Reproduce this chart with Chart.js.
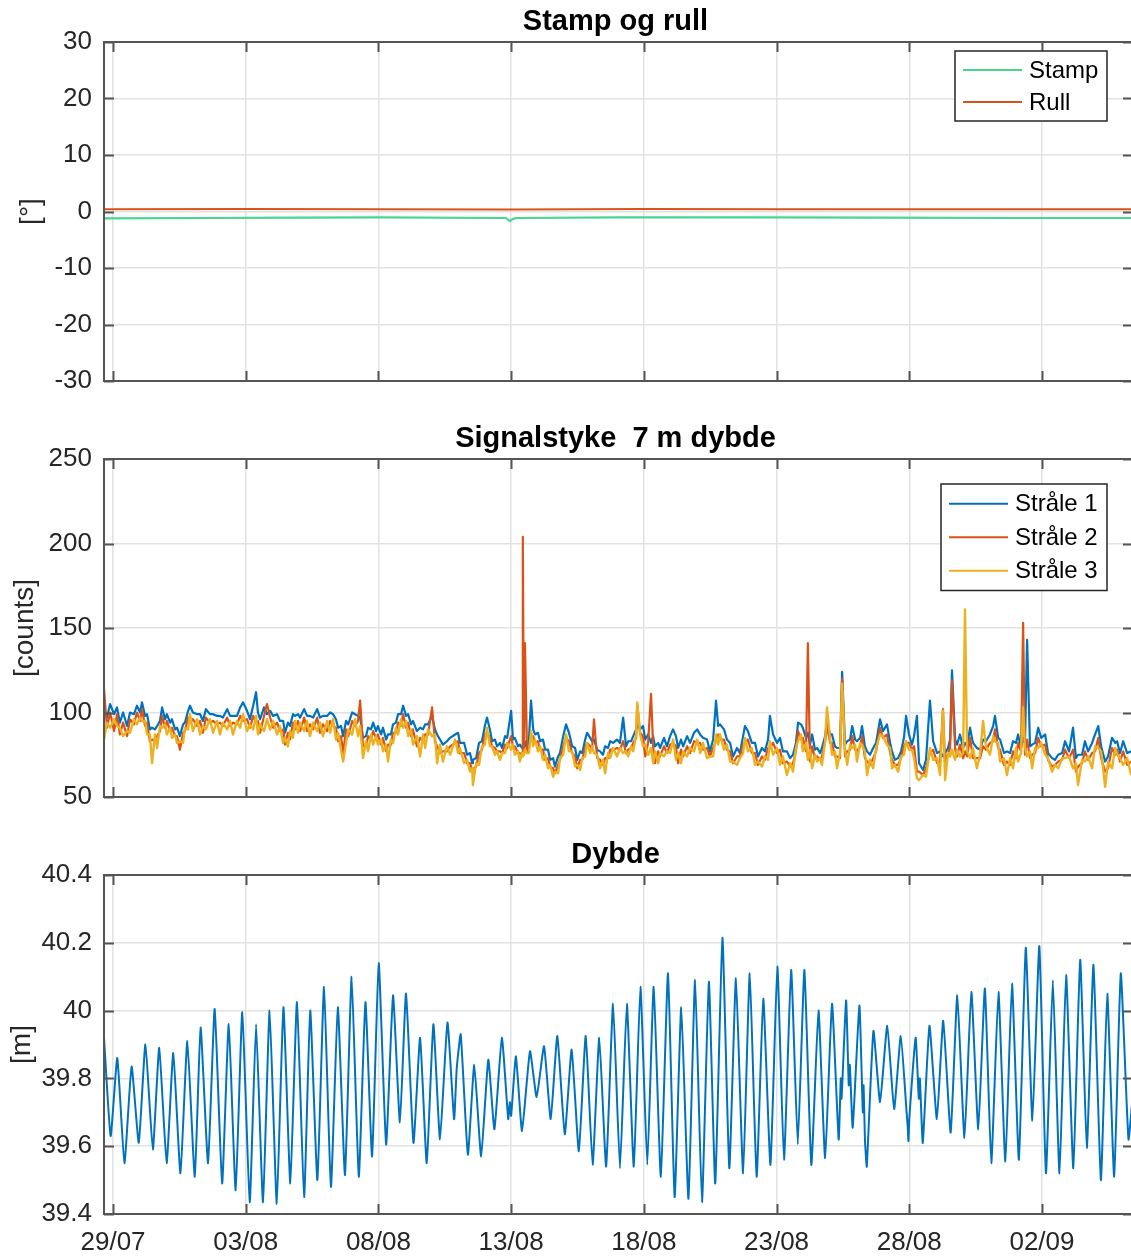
<!DOCTYPE html>
<html>
<head>
<meta charset="utf-8">
<title>Stamp og rull / Signalstyke / Dybde</title>
<script src="https://cdn.jsdelivr.net/npm/chart.js@4.4.1/dist/chart.umd.min.js"></script>
<style>
  html, body { margin: 0; padding: 0; background: #fff; overflow: hidden; }
  #wrap { position: relative; width: 1131px; height: 1256px; overflow: hidden; }
  canvas { position: absolute; left: 0; }
</style>
</head>
<body>
<div id="wrap">
  <canvas id="stampRull" width="1140" height="417" style="top:0px"></canvas>
  <canvas id="signal" width="1140" height="417" style="top:417px"></canvas>
  <canvas id="dybde" width="1140" height="423" style="top:833px"></canvas>
</div>
<script>
// tid i døgn etter 29/07 00:00
const xMin = -0.34;
const xMax = 38.43;
const tickDays = [0, 5, 10, 15, 20, 25, 30, 35];
const tickLabels = ['29/07', '03/08', '08/08', '13/08', '18/08', '23/08', '28/08', '02/09'];

// stamp og rull [grader]
const angleTicks = [-30, -20, -10, 0, 10, 20, 30];
const stampDays = [-0.34, 3, 7, 10, 14.8, 14.95, 15.05, 15.2, 19, 24, 29, 34, 38.43];
const stampVals = [-1.2, -1.15, -1.1, -1.05, -1.15, -1.7, -1.35, -1.15, -1.05, -1.05, -1.1, -1.15, -1.15];
const rullDays = [-0.34, 5, 10, 15, 20, 25, 30, 38.43];
const rullVals = [0.4, 0.45, 0.4, 0.35, 0.45, 0.4, 0.4, 0.4];

// signalstyrke [counts], tre stråler
const countTicks = [50, 100, 150, 200, 250];
const sigDays = [
  -0.34, -0.23, -0.11, 0.04, 0.15, 0.26, 0.38, 0.53, 0.64, 0.79,
  0.90, 1.02, 1.09, 1.21, 1.28, 1.39, 1.47, 1.58, 1.66, 1.77,
  1.85, 1.96, 2.03, 2.15, 2.22, 2.34, 2.41, 2.52, 2.64, 2.71,
  2.83, 2.90, 3.01, 3.17, 3.28, 3.39, 3.50, 3.65, 3.77, 3.92,
  4.03, 4.14, 4.30, 4.41, 4.52, 4.67, 4.79, 4.90, 5.05, 5.16,
  5.28, 5.39, 5.46, 5.54, 5.69, 5.80, 5.92, 6.03, 6.18, 6.29,
  6.41, 6.48, 6.59, 6.67, 6.78, 6.86, 6.97, 7.05, 7.20, 7.31,
  7.42, 7.54, 7.69, 7.80, 7.91, 8.07, 8.18, 8.29, 8.40, 8.48,
  8.59, 8.67, 8.78, 8.86, 9.01, 9.12, 9.23, 9.31, 9.42, 9.53,
  9.61, 9.72, 9.80, 9.91, 9.98, 10.10, 10.17, 10.29, 10.36, 10.47,
  10.55, 10.66, 10.74, 10.85, 10.93, 11.04, 11.12, 11.23, 11.30, 11.45,
  11.57, 11.68, 11.76, 11.87, 12.02, 12.13, 12.21, 12.32, 12.43, 12.58,
  12.70, 12.89, 13.00, 13.07, 13.23, 13.34, 13.45, 13.53, 13.56, 13.68,
  13.79, 13.90, 14.01, 14.09, 14.20, 14.28, 14.39, 14.47, 14.58, 14.66,
  14.77, 14.85, 15.00, 15.07, 15.14, 15.26, 15.33, 15.41, 15.44, 15.48,
  15.52, 15.60, 15.67, 15.75, 15.83, 15.90, 16.01, 16.09, 16.20, 16.28,
  16.39, 16.47, 16.58, 16.65, 16.77, 16.84, 16.96, 17.07, 17.18, 17.30,
  17.41, 17.49, 17.60, 17.68, 17.79, 17.86, 17.98, 18.05, 18.12, 18.24,
  18.35, 18.46, 18.54, 18.65, 18.73, 18.84, 18.99, 19.10, 19.22, 19.33,
  19.41, 19.52, 19.60, 19.71, 19.75, 19.86, 19.97, 20.05, 20.16, 20.27,
  20.35, 20.42, 20.54, 20.61, 20.76, 20.87, 20.99, 21.10, 21.21, 21.29,
  21.40, 21.48, 21.63, 21.74, 21.89, 22.01, 22.12, 22.23, 22.38, 22.49,
  22.61, 22.72, 22.80, 22.87, 23.02, 23.13, 23.25, 23.36, 23.51, 23.62,
  23.74, 23.81, 23.92, 24.07, 24.19, 24.30, 24.45, 24.56, 24.68, 24.75,
  24.87, 25.02, 25.13, 25.24, 25.39, 25.51, 25.62, 25.73, 25.81, 25.92,
  25.99, 26.11, 26.18, 26.26, 26.34, 26.45, 26.53, 26.64, 26.71, 26.83,
  26.90, 27.02, 27.09, 27.20, 27.28, 27.39, 27.47, 27.58, 27.66, 27.77,
  27.85, 27.96, 28.03, 28.15, 28.22, 28.33, 28.41, 28.52, 28.64, 28.75,
  28.90, 29.01, 29.16, 29.28, 29.35, 29.46, 29.58, 29.69, 29.80, 29.88,
  29.99, 30.10, 30.18, 30.29, 30.37, 30.52, 30.63, 30.78, 30.90, 31.05,
  31.16, 31.27, 31.35, 31.46, 31.54, 31.61, 31.73, 31.80, 31.91, 32.03,
  32.10, 32.18, 32.29, 32.40, 32.55, 32.67, 32.78, 32.89, 33.04, 33.16,
  33.23, 33.35, 33.42, 33.57, 33.68, 33.80, 33.91, 34.02, 34.10, 34.21,
  34.29, 34.36, 34.44, 34.55, 34.63, 34.74, 34.86, 34.97, 35.12, 35.23,
  35.38, 35.49, 35.61, 35.76, 35.87, 36.02, 36.17, 36.28, 36.36, 36.51,
  36.62, 36.74, 36.89, 37.00, 37.12, 37.23, 37.38, 37.49, 37.64, 37.76,
  37.83, 37.94, 38.06, 38.21, 38.36
];
const straale1 = [
  102, 97, 105, 99, 103, 94, 100, 92, 100, 99,
  104, 100, 106, 98, 99, 90, 91, 90, 92, 95,
  103, 96, 99, 94, 96, 90, 91, 86, 93, 94,
  101, 104, 100, 99, 99, 95, 102, 99, 99, 98,
  98, 97, 102, 98, 98, 98, 103, 106, 101, 96,
  104, 112, 100, 96, 103, 99, 101, 98, 99, 95,
  95, 88, 94, 92, 99, 98, 99, 97, 102, 98,
  98, 97, 102, 97, 98, 98, 100, 99, 96, 91,
  92, 86, 95, 93, 100, 99, 98, 97, 85, 86,
  91, 90, 94, 89, 92, 87, 91, 84, 87, 87,
  93, 94, 99, 99, 104, 98, 99, 93, 95, 89,
  91, 90, 93, 93, 98, 90, 87, 84, 81, 83,
  85, 87, 88, 82, 82, 75, 76, 70, 72, 73,
  82, 83, 92, 97, 90, 83, 84, 80, 82, 79,
  86, 85, 101, 84, 85, 80, 81, 79, 80, 78,
  83, 79, 84, 107, 90, 87, 88, 83, 84, 78,
  78, 72, 73, 68, 74, 76, 86, 93, 88, 80,
  79, 72, 77, 76, 84, 88, 85, 83, 84, 78,
  77, 75, 80, 79, 83, 82, 84, 82, 97, 80,
  83, 83, 86, 90, 93, 90, 92, 84, 87, 82,
  86, 80, 82, 79, 85, 80, 86, 90, 86, 79,
  84, 80, 86, 82, 88, 90, 87, 85, 84, 77,
  84, 107, 92, 93, 90, 84, 82, 74, 79, 76,
  86, 92, 89, 82, 82, 74, 79, 77, 84, 98,
  87, 82, 85, 77, 77, 73, 75, 82, 94, 93,
  91, 85, 88, 81, 87, 78, 79, 76, 79, 86,
  95, 87, 87, 80, 79, 79, 124, 81, 83, 84,
  92, 84, 83, 85, 92, 80, 77, 75, 79, 82,
  96, 89, 93, 82, 77, 72, 73, 77, 85, 98,
  87, 81, 86, 98, 70, 66, 72, 107, 83, 76,
  77, 74, 76, 79, 84, 125, 84, 81, 87, 79,
  82, 80, 91, 82, 79, 78, 84, 83, 87, 92,
  98, 85, 84, 76, 77, 76, 83, 82, 87, 79,
  85, 82, 143, 80, 81, 82, 91, 85, 87, 76,
  73, 72, 75, 76, 83, 77, 91, 73, 75, 75,
  83, 77, 82, 87, 92, 80, 71, 74, 85, 82,
  83, 76, 83, 76, 77
];
const straale2 = [
  114, 91, 100, 89, 99, 87, 94, 86, 96, 93,
  100, 95, 102, 92, 94, 83, 84, 83, 86, 89,
  98, 91, 95, 89, 91, 86, 86, 78, 88, 89,
  97, 94, 96, 92, 95, 88, 97, 94, 95, 93,
  94, 92, 97, 92, 94, 93, 98, 95, 96, 91,
  98, 94, 95, 88, 98, 105, 97, 91, 94, 89,
  90, 81, 88, 84, 94, 90, 95, 89, 97, 89,
  93, 90, 97, 88, 93, 89, 95, 92, 91, 83,
  86, 76, 90, 86, 95, 92, 95, 107, 80, 80,
  86, 84, 89, 85, 87, 81, 85, 77, 81, 81,
  88, 88, 94, 92, 99, 91, 94, 86, 90, 80,
  85, 83, 87, 87, 103, 83, 80, 76, 77, 77,
  80, 82, 83, 76, 76, 70, 70, 66, 66, 68,
  76, 78, 87, 88, 85, 80, 79, 77, 77, 76,
  81, 79, 86, 80, 80, 76, 76, 75, 204, 75,
  141, 76, 79, 85, 86, 82, 83, 78, 78, 72,
  73, 68, 67, 64, 69, 72, 80, 85, 83, 76,
  74, 67, 72, 72, 79, 82, 80, 78, 96, 73,
  72, 69, 73, 73, 78, 78, 79, 78, 83, 76,
  78, 79, 82, 85, 105, 88, 86, 74, 82, 111,
  80, 70, 77, 74, 80, 76, 81, 82, 80, 70,
  78, 74, 80, 76, 83, 82, 82, 78, 79, 74,
  79, 83, 87, 84, 84, 78, 77, 70, 74, 74,
  81, 82, 84, 76, 76, 69, 74, 72, 79, 79,
  82, 76, 78, 70, 71, 68, 70, 77, 89, 84,
  85, 77, 141, 71, 80, 73, 74, 72, 74, 83,
  92, 82, 82, 74, 74, 73, 120, 74, 77, 78,
  86, 78, 77, 80, 86, 73, 71, 69, 73, 77,
  91, 85, 87, 76, 72, 69, 69, 73, 80, 82,
  82, 78, 80, 65, 65, 63, 67, 76, 78, 70,
  71, 102, 70, 76, 79, 119, 78, 74, 81, 73,
  77, 74, 85, 73, 73, 73, 80, 78, 82, 83,
  90, 79, 78, 69, 71, 69, 77, 73, 82, 77,
  153, 75, 84, 73, 75, 76, 85, 80, 81, 72,
  68, 69, 71, 72, 78, 73, 78, 65, 68, 70,
  77, 72, 76, 77, 85, 73, 65, 67, 79, 75,
  78, 71, 77, 69, 71
];
const straale3 = [
  84, 94, 91, 96, 92, 91, 86, 89, 88, 96,
  93, 97, 95, 95, 87, 87, 70, 87, 79, 92,
  91, 93, 87, 91, 85, 87, 82, 83, 82, 91,
  90, 99, 89, 96, 87, 92, 90, 96, 88, 95,
  87, 94, 90, 95, 87, 95, 91, 99, 89, 93,
  90, 98, 87, 93, 89, 96, 90, 95, 87, 92,
  82, 85, 80, 89, 85, 95, 88, 94, 89, 95,
  86, 94, 89, 94, 86, 95, 88, 96, 84, 88,
  78, 71, 82, 90, 87, 96, 86, 92, 73, 83,
  77, 87, 81, 86, 81, 84, 77, 81, 71, 84,
  82, 91, 87, 96, 91, 95, 86, 90, 81, 86,
  74, 87, 79, 90, 86, 87, 70, 81, 71, 80,
  75, 84, 76, 79, 70, 72, 65, 67, 57, 70,
  69, 80, 81, 91, 80, 80, 75, 77, 72, 76,
  76, 82, 78, 81, 75, 77, 71, 76, 74, 75,
  78, 76, 76, 89, 80, 84, 77, 80, 72, 75,
  67, 69, 62, 65, 64, 73, 75, 87, 77, 77,
  68, 69, 66, 73, 74, 82, 76, 80, 76, 75,
  67, 72, 64, 76, 73, 79, 74, 79, 76, 77,
  74, 80, 77, 87, 106, 87, 80, 81, 75, 79,
  70, 77, 70, 76, 74, 77, 76, 84, 72, 76,
  70, 77, 74, 79, 77, 84, 76, 82, 73, 74,
  74, 87, 81, 87, 78, 81, 71, 71, 69, 73,
  76, 85, 77, 79, 69, 71, 68, 74, 72, 83,
  75, 79, 69, 74, 63, 70, 65, 79, 83, 87,
  77, 82, 72, 78, 67, 75, 71, 73, 69, 83,
  103, 84, 75, 77, 67, 76, 117, 78, 69, 81,
  79, 81, 71, 82, 81, 77, 63, 72, 67, 79,
  87, 86, 81, 79, 67, 69, 65, 74, 75, 83,
  78, 78, 73, 61, 60, 63, 62, 79, 72, 73,
  63, 101, 60, 76, 74, 78, 72, 78, 74, 76,
  161, 77, 73, 79, 67, 75, 95, 80, 75, 86,
  83, 82, 71, 73, 63, 73, 67, 79, 71, 76,
  103, 79, 74, 77, 67, 79, 79, 82, 75, 73,
  65, 69, 67, 73, 73, 74, 67, 70, 57, 72,
  71, 74, 67, 80, 79, 77, 56, 71, 67, 79,
  75, 73, 69, 73, 63
];

// dybde [m], topper og bunner i tidevannet
const depthTicks = [39.4, 39.6, 39.8, 40, 40.2, 40.4];
const depthDays = [
  -0.34, -0.09, 0.16, 0.43, 0.70, 0.97, 1.22, 1.50, 1.74, 2.02,
  2.27, 2.54, 2.80, 3.08, 3.30, 3.58, 3.83, 4.11, 4.36, 4.62,
  4.87, 5.15, 5.39, 5.65, 5.90, 6.17, 6.42, 6.68, 6.93, 7.20,
  7.43, 7.70, 7.95, 8.21, 8.47, 8.74, 8.99, 9.26, 9.51, 9.76,
  10.01, 10.29, 10.55, 10.81, 11.04, 11.32, 11.57, 11.82, 12.07, 12.32,
  12.60, 12.85, 12.95, 13.10, 13.37, 13.61, 13.87, 14.14, 14.37, 14.65,
  14.89, 14.95, 15.00, 15.18, 15.41, 15.71, 15.96, 16.24, 16.49, 16.74,
  17.02, 17.28, 17.55, 17.81, 18.07, 18.32, 18.58, 18.84, 19.10, 19.36,
  19.62, 19.87, 20.13, 20.37, 20.64, 20.91, 21.16, 21.41, 21.68, 21.93,
  22.19, 22.45, 22.69, 22.96, 23.22, 23.47, 23.74, 23.99, 24.25, 24.50,
  24.77, 25.03, 25.28, 25.55, 25.80, 26.05, 26.31, 26.58, 26.83, 27.09,
  27.34, 27.42, 27.45, 27.62, 27.72, 27.76, 27.87, 28.12, 28.25, 28.28,
  28.33, 28.40, 28.65, 28.90, 29.17, 29.43, 29.68, 29.90, 29.94, 29.97,
  30.00, 30.24, 30.36, 30.40, 30.51, 30.76, 31.04, 31.28, 31.56, 31.81,
  32.08, 32.34, 32.60, 32.85, 33.09, 33.36, 33.62, 33.87, 34.13, 34.39,
  34.64, 34.90, 35.15, 35.41, 35.66, 35.91, 36.18, 36.44, 36.69, 36.94,
  37.22, 37.46, 37.72, 37.97, 38.26, 38.43
];
const depthVals = [
  39.92, 39.63, 39.86, 39.55, 39.835, 39.61, 39.90, 39.59, 39.89, 39.55,
  39.875, 39.52, 39.91, 39.51, 39.95, 39.55, 40.005, 39.49, 39.96, 39.47,
  39.995, 39.435, 39.96, 39.435, 40.0, 39.43, 40.01, 39.49, 40.025, 39.45,
  40.0, 39.50, 40.07, 39.48, 40.01, 39.515, 40.10, 39.51, 40.025, 39.57,
  40.14, 39.605, 40.045, 39.67, 40.05, 39.61, 39.92, 39.55, 39.96, 39.62,
  39.965, 39.68, 39.83, 39.93, 39.575, 39.84, 39.57, 39.855, 39.65, 39.92,
  39.68, 39.73, 39.69, 39.865, 39.645, 39.88, 39.745, 39.895, 39.68, 39.925,
  39.635, 39.885, 39.585, 39.925, 39.545, 39.92, 39.54, 40.02, 39.535, 40.02,
  39.54, 40.07, 39.545, 40.07, 39.51, 40.11, 39.45, 40.01, 39.445, 40.09,
  39.435, 40.085, 39.49, 40.215, 39.535, 40.095, 39.52, 40.11, 39.51, 40.035,
  39.545, 40.13, 39.56, 40.12, 39.605, 40.12, 39.545, 40.0, 39.565, 40.02,
  39.62, 39.80, 39.74, 40.03, 39.78, 39.84, 39.655, 40.015, 39.70, 39.78,
  39.62, 39.54, 39.94, 39.73, 39.955, 39.71, 39.925, 39.70, 39.66, 39.615,
  39.68, 39.92, 39.74, 39.80, 39.61, 39.955, 39.68, 39.97, 39.64, 40.045,
  39.625, 40.055, 39.65, 40.065, 39.55, 40.055, 39.555, 40.08, 39.56, 40.185,
  39.675, 40.19, 39.52, 40.09, 39.52, 40.105, 39.535, 40.15, 39.595, 40.135,
  39.50, 40.05, 39.51, 40.11, 39.62, 39.76
];

const FONT = "'Liberation Sans', Arial, Helvetica, sans-serif";
const TEXT_GREY = '#262626';
const GRID = '#e2e2e2';
const FRAME = '#555555';

function pts(xs, ys) {
  return xs.map((x, i) => ({ x: x, y: ys[i] }));
}

// titler, y-tekst, legende, ramme og innovervendte tikker
const axesDecor = {
  id: 'axesDecor',
  afterDraw(chart, args, opts) {
    const ctx = chart.ctx;
    const a = chart.chartArea;
    const xs = chart.scales.x, ys = chart.scales.y;
    ctx.save();

    // ramme
    ctx.strokeStyle = FRAME;
    ctx.lineWidth = 2;
    ctx.strokeRect(a.left, a.top, a.right - a.left, a.bottom - a.top);

    // tikker innover
    ctx.beginPath();
    tickDays.forEach(v => {
      const px = Math.round(xs.getPixelForValue(v)) + 0.5;
      ctx.moveTo(px, a.bottom); ctx.lineTo(px, a.bottom - 10);
      ctx.moveTo(px, a.top); ctx.lineTo(px, a.top + 10);
    });
    opts.yTicks.forEach(v => {
      const py = Math.round(ys.getPixelForValue(v)) + 0.5;
      ctx.moveTo(a.left, py); ctx.lineTo(a.left + 10, py);
      ctx.moveTo(a.right, py); ctx.lineTo(a.right - 10, py);
    });
    ctx.stroke();

    // tittel
    ctx.fillStyle = '#000';
    ctx.font = 'bold 29px ' + FONT;
    ctx.textAlign = 'center';
    ctx.textBaseline = 'middle';
    ctx.fillText(opts.title, (a.left + a.right) / 2 - 3, 22);

    // y-aksetekst
    ctx.save();
    ctx.translate(opts.yLabelX, (a.top + a.bottom) / 2);
    ctx.rotate(-Math.PI / 2);
    ctx.fillStyle = TEXT_GREY;
    ctx.font = '28px ' + FONT;
    ctx.fillText(opts.yLabel, 0, 0);
    ctx.restore();

    // legende
    if (opts.legend) {
      const lg = opts.legend;
      const sets = chart.data.datasets;
      const h = sets.length * lg.rowH + 6;
      ctx.fillStyle = '#fff';
      ctx.fillRect(lg.left, lg.top, lg.width, h);
      ctx.strokeStyle = '#262626';
      ctx.lineWidth = 1.5;
      ctx.strokeRect(lg.left, lg.top, lg.width, h);
      ctx.font = '24px ' + FONT;
      ctx.textAlign = 'left';
      sets.forEach((ds, i) => {
        const y = lg.top + 3 + lg.rowH * (i + 0.5);
        ctx.strokeStyle = ds.borderColor;
        ctx.lineWidth = 2;
        ctx.beginPath();
        ctx.moveTo(lg.left + 8, y);
        ctx.lineTo(lg.left + 67, y);
        ctx.stroke();
        ctx.fillStyle = '#000';
        ctx.fillText(ds.label, lg.left + 74, y + 1);
      });
    }
    ctx.restore();
  }
};

function xAxis(showLabels, height) {
  return {
    type: 'linear',
    min: xMin,
    max: xMax,
    afterBuildTicks: ax => { ax.ticks = tickDays.map(v => ({ value: v })); },
    afterFit: ax => { ax.height = height; },
    grid: { color: GRID, lineWidth: 1.5, drawTicks: false },
    border: { display: false },
    ticks: {
      display: showLabels,
      color: TEXT_GREY,
      font: { family: FONT, size: 26 },
      padding: 13,
      maxRotation: 0,
      autoSkip: false,
      callback: v => tickLabels[tickDays.indexOf(v)]
    }
  };
}

function yAxis(min, max, ticks) {
  return {
    type: 'linear',
    min: min,
    max: max,
    afterBuildTicks: ax => { ax.ticks = ticks.map(v => ({ value: v })); },
    afterFit: ax => { ax.width = 104; },
    grid: { color: GRID, lineWidth: 1.5, drawTicks: false },
    border: { display: false },
    ticks: {
      color: TEXT_GREY,
      font: { family: FONT, size: 26 },
      padding: 12,
      callback: v => String(Number(v.toFixed(1)))
    }
  };
}

function baseOptions(xHeight, yMin, yMax, yTicks, decor) {
  decor.yTicks = yTicks;
  return {
    responsive: false,
    maintainAspectRatio: false,
    animation: false,
    events: [],
    layout: { padding: { top: 42, right: 7, left: 0, bottom: 0 } },
    scales: {
      x: xAxis(xHeight === 42, xHeight),
      y: yAxis(yMin, yMax, yTicks)
    },
    plugins: {
      legend: { display: false },
      tooltip: { enabled: false },
      axesDecor: decor
    }
  };
}

const lineStyle = { pointRadius: 0, fill: false, tension: 0, borderJoinStyle: 'round' };

// Stamp og rull
new Chart(document.getElementById('stampRull'), {
  type: 'line',
  data: {
    datasets: [
      Object.assign({ label: 'Stamp', data: pts(stampDays, stampVals), borderColor: '#48d58f', borderWidth: 2.2 }, lineStyle),
      Object.assign({ label: 'Rull', data: pts(rullDays, rullVals), borderColor: '#D95319', borderWidth: 2 }, lineStyle)
    ]
  },
  options: baseOptions(36, -30, 30, angleTicks, {
    title: 'Stamp og rull', yLabel: '[°]', yLabelX: 31,
    legend: { left: 955, top: 51, width: 152, rowH: 32 }
  }),
  plugins: [axesDecor]
});

// Signalstyrke
new Chart(document.getElementById('signal'), {
  type: 'line',
  data: {
    datasets: [
      Object.assign({ label: 'Stråle 1', data: pts(sigDays, straale1), borderColor: '#0072BD', borderWidth: 2.2, order: 3 }, lineStyle),
      Object.assign({ label: 'Stråle 2', data: pts(sigDays, straale2), borderColor: '#D95319', borderWidth: 2.2, order: 2 }, lineStyle),
      Object.assign({ label: 'Stråle 3', data: pts(sigDays, straale3), borderColor: '#EDB120', borderWidth: 2.4, order: 1 }, lineStyle)
    ]
  },
  options: baseOptions(37, 50, 250, countTicks, {
    title: 'Signalstyke  7 m dybde', yLabel: '[counts]', yLabelX: 25,
    legend: { left: 941, top: 67, width: 166, rowH: 33.5 }
  }),
  plugins: [axesDecor]
});

// Dybde
new Chart(document.getElementById('dybde'), {
  type: 'line',
  data: {
    datasets: [
      Object.assign({}, lineStyle, { label: 'Dybde', data: pts(depthDays, depthVals), borderColor: '#0072BD', borderWidth: 2, tension: 0.15 })
    ]
  },
  options: baseOptions(42, 39.4, 40.4, depthTicks, {
    title: 'Dybde', yLabel: '[m]', yLabelX: 22
  }),
  plugins: [axesDecor]
});
</script>
</body>
</html>
